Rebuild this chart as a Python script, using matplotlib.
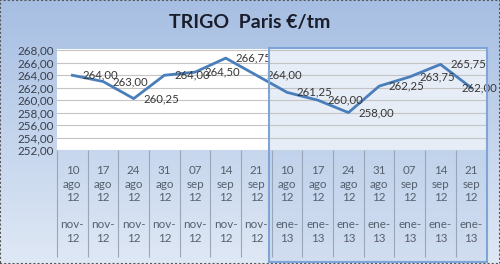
import numpy as np
import matplotlib.pyplot as plt
import matplotlib.transforms as mtransforms
from matplotlib.patches import Rectangle
from matplotlib.colors import LinearSegmentedColormap

plt.rcParams['font.family'] = ['Lato', 'DejaVu Sans']

# donnees
dias = ["10", "17", "24", "31", "07", "14", "21"] * 2
meses = ["ago", "ago", "ago", "ago", "sep", "sep", "sep"] * 2
contratos = ["nov-\n12"] * 7 + ["ene-\n13"] * 7
precios = [264.00, 263.00, 260.25, 264.00, 264.50, 266.75, 264.00,
           261.25, 260.00, 258.00, 262.25, 263.75, 265.75, 262.00]
yticks = [252, 254, 256, 258, 260, 262, 264, 266, 268]

fig = plt.figure(figsize=(5.0, 2.64), dpi=100)

# fond en degrade
bg = fig.add_axes([0, 0, 1, 1], zorder=-10)
cmap = LinearSegmentedColormap.from_list("fond", ["#a6bee2", "#c3d4ec", "#dfe8f5"])
bg.imshow(np.linspace(0, 1, 256).reshape(-1, 1), aspect="auto", cmap=cmap,
          extent=[0, 1, 0, 1])
bg.add_patch(Rectangle((0, 0), 1, 1, fill=False, ec="#555555", lw=1.5, ls=(0, (1, 1))))
bg.set_axis_off()

ax = fig.add_axes([0.114, 0.432, 0.859, 0.382])
x = np.arange(len(precios))

# grille horizontale
for v in yticks:
    ax.axhline(v, color="#c4c4c4", lw=0.8, zorder=1)

ax.plot(x, precios, color="#4a7ebb", lw=2.0, zorder=4)

# etiquettes des valeurs
for i, v in enumerate(precios):
    dx = 7 if i < len(precios) - 1 else -7
    ax.annotate(f"{v:.2f}".replace(".", ","), (i, v), xytext=(dx, 0),
                textcoords="offset points", ha="left", va="center",
                fontsize=8.2, color="#363636", zorder=5)

ax.set_xlim(-0.5, 13.5)
ax.set_ylim(252, 268.2)
ax.set_yticks(yticks)
ax.set_yticklabels([f"{v:.2f}".replace(".", ",") for v in yticks],
                   fontsize=8.4, color="#3a3f4a")
ax.set_xticks(x)
ax.set_xticklabels([f"{d}\n{m}\n12\n\n{c}" for d, m, c in zip(dias, meses, contratos)],
                   fontsize=8.4, color="#55606e", linespacing=1.28)
ax.tick_params(axis="both", length=0)
ax.tick_params(axis="x", pad=11)
ax.tick_params(axis="y", pad=2)
for s in ax.spines.values():
    s.set_visible(False)
ax.set_facecolor("white")

# separateurs des categories sous l'axe
trans = mtransforms.blended_transform_factory(ax.transData, ax.transAxes)
ax.vlines(np.arange(-0.5, 13.0, 1.0), -1.06, 0, transform=trans,
          color="#9aa6b8", lw=0.8, clip_on=False)

# cadre de la deuxieme periode
ax.add_patch(Rectangle((6.4, -1.11), 7.1, 2.12, transform=trans,
                       fc="#b8cce8", alpha=0.35, ec="none", clip_on=False, zorder=0.5))
ax.add_patch(Rectangle((6.4, -1.11), 7.1, 2.12, transform=trans,
                       fill=False, ec="#7fa5d8", lw=1.5, clip_on=False, zorder=6))

fig.text(0.5, 0.915, "TRIGO  Paris €/tm", ha="center", va="center",
         fontsize=14, fontweight="bold", color="#1a1d2a")

fig.savefig("out.png", dpi=100)
